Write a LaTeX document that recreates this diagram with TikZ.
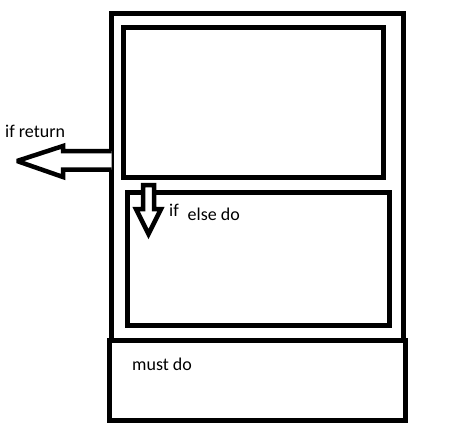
\documentclass[tikz,border=0pt]{standalone}
\usepackage{fontspec}
\setmainfont{Carlito}
\begin{document}
\begin{tikzpicture}[x=1pt,y=-1pt,
  boxline/.style={draw=black,line width=5pt},
  arrowline/.style={draw=black,line width=4.5pt,line join=miter,miter limit=3,fill=white},
  lbl/.style={anchor=base west,inner sep=0pt,font=\fontsize{18}{21}\selectfont}]
\useasboundingbox[fill=white] (0,0) rectangle (449,425);
% outer frame
\coordinate (oTL) at (111.5,13.5);
\coordinate (oBR) at (403.5,340.5);
\draw[boxline] (oTL) rectangle (oBR);
% upper inner box
\coordinate (uTL) at (123.5,27.5);
\coordinate (uBR) at (383.5,177.5);
\draw[boxline] (uTL) rectangle (uBR);
% lower inner box
\coordinate (lTL) at (127.5,192.5);
\coordinate (lBR) at (389.5,325.5);
\draw[boxline] (lTL) rectangle (lBR);
% must do box
\coordinate (mTL) at (109.5,340.5);
\coordinate (mBR) at (405,420);
\draw[boxline] (mTL) rectangle (mBR);
% left arrow (if return)
\draw[arrowline] (111.5,151) -- (63,151) -- (63,146) -- (17,161) -- (63,177) -- (63,169.5) -- (111.5,169.5);
% down arrow (if)
\draw[arrowline] (143,209) -- (143,185) -- (154,185) -- (154,209) -- (161,209) -- (148.5,234) -- (136,209) -- cycle;
% labels
\node[lbl] (ifret) at (5,137) {if return};
\node[lbl] (ifdown) at (169,216.5) {if};
\node[lbl] (elsedo) at (187.5,220) {else do};
\node[lbl] (mustdo) at (132,370) {must do};
\end{tikzpicture}
\end{document}
